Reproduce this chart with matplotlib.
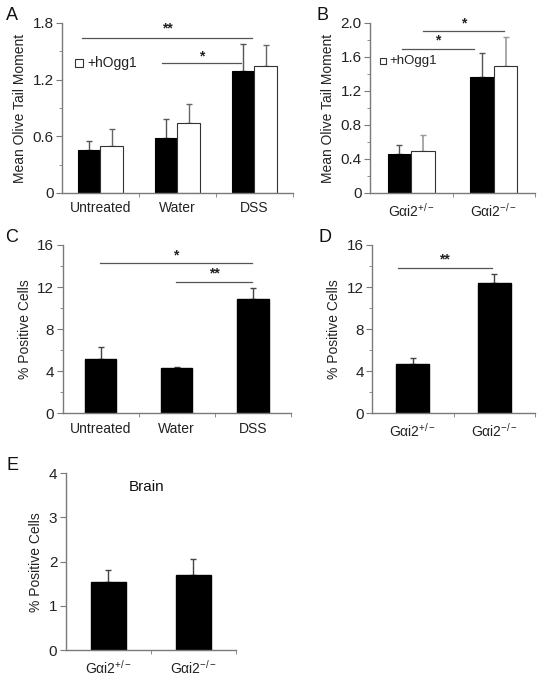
import matplotlib
matplotlib.use("Agg")
import matplotlib.pyplot as plt
import numpy as np

plt.rcParams['font.family'] = ['Liberation Sans', 'DejaVu Sans']
plt.rcParams['mathtext.fontset'] = 'custom'
plt.rcParams['mathtext.rm'] = 'Liberation Sans'
plt.rcParams['mathtext.it'] = 'Liberation Sans'
plt.rcParams['mathtext.bf'] = 'Liberation Sans:bold'
plt.rcParams['mathtext.default'] = 'regular'

# ---- data ----
a_cats = ["Untreated", "Water", "DSS"]
a_ctrl = [0.455, 0.58, 1.29]
a_ctrl_err = [0.10, 0.20, 0.29]
a_hogg = [0.50, 0.74, 1.35]
a_hogg_err = [0.175, 0.20, 0.22]

b_cats = ["Gαi2$^{+/-}$", "Gαi2$^{-/-}$"]
b_ctrl = [0.46, 1.37]
b_ctrl_err = [0.10, 0.28]
b_hogg = [0.49, 1.49]
b_hogg_err = [0.19, 0.34]

c_cats = ["Untreated", "Water", "DSS"]
c_vals = [5.15, 4.31, 10.85]
c_err = [1.12, 0.12, 1.09]

d_cats = ["Gαi2$^{+/-}$", "Gαi2$^{-/-}$"]
d_vals = [4.69, 12.37]
d_err = [0.58, 0.85]

e_cats = ["Gαi2$^{+/-}$", "Gαi2$^{-/-}$"]
e_vals = [1.55, 1.70]
e_err = [0.25, 0.35]

SPINE = '#7a7a7a'
FS = 10
YFS = 11

fig = plt.figure(figsize=(5.4, 6.75), dpi=100)

def style(ax, ylim, major, minor, ncat, ylabel, ticklabels, fmt):
    ax.set_xlim(-0.5, ncat - 0.5)
    ax.set_ylim(*ylim)
    for s in ['top', 'right']:
        ax.spines[s].set_visible(False)
    for s in ['left', 'bottom']:
        ax.spines[s].set_color(SPINE)
        ax.spines[s].set_linewidth(1.0)
    ax.set_yticks(major)
    ax.set_yticklabels([fmt(v) for v in major], fontsize=YFS, color='#222222')
    ax.set_yticks(minor, minor=True)
    ax.tick_params(axis='y', which='major', direction='out', length=4, color=SPINE, pad=2)
    ax.tick_params(axis='y', which='minor', direction='out', length=2.5, color=SPINE)
    bounds = np.arange(ncat + 1) - 0.5
    ax.set_xticks(bounds[1:], minor=True)
    ax.tick_params(axis='x', which='minor', direction='out', length=3, color=SPINE)
    ax.set_xticks(np.arange(ncat))
    ax.set_xticklabels(ticklabels, fontsize=FS, color='#222222')
    ax.tick_params(axis='x', which='major', length=0, pad=6)
    ax.set_ylabel(ylabel, fontsize=FS, color='#222222', labelpad=4)
    ax.patch.set_alpha(0)

def sig(ax, x0, x1, y, text, ty):
    ax.plot([x0, x1], [y, y], color='#555555', lw=0.9, clip_on=False)
    ax.text((x0 + x1) / 2, ty, text, ha='center', va='center', fontsize=10, fontweight='bold', color='#222222')

# ---- Panel A ----
axA = fig.add_axes([62/540, 1-193/675, 231/540, 170/675])
x = np.arange(len(a_cats))
w = 0.29
axA.bar(x - w/2, a_ctrl, w, color='black', edgecolor='black', lw=0.8, zorder=2)
axA.bar(x + w/2, a_hogg, w, color='white', edgecolor='#333333', lw=0.8, zorder=2)
axA.errorbar(x - w/2, a_ctrl, yerr=[np.zeros(3), a_ctrl_err], fmt='none', ecolor='#555555', elinewidth=1, capsize=2.5, capthick=1, zorder=1)
axA.errorbar(x + w/2, a_hogg, yerr=[np.zeros(3), a_hogg_err], fmt='none', ecolor='#666666', elinewidth=1, capsize=2.5, capthick=1, zorder=1)
style(axA, (0, 1.8), [0, 0.6, 1.2, 1.8], [0.3, 0.9, 1.5], 3, "Mean Olive Tail Moment", a_cats,
      lambda v: "0" if v == 0 else f"{v:.1f}")
sig(axA, -0.24, 1.97, 1.639, "**", 1.737)
sig(axA, 0.80, 1.82, 1.374, "*", 1.445)
axA.plot([-0.28], [1.377], marker='s', ms=5.5, mfc='white', mec='#333333', mew=0.8, clip_on=False)
axA.text(-0.17, 1.377, "+hOgg1", fontsize=FS, va='center', ha='left', color='#222222')

# ---- Panel B ----
axB = fig.add_axes([370/540, 1-193/675, 165/540, 170/675])
x = np.arange(len(b_cats))
w = 0.285
axB.bar(x - w/2, b_ctrl, w, color='black', edgecolor='black', lw=0.8, zorder=2)
axB.bar(x + w/2, b_hogg, w, color='white', edgecolor='#333333', lw=0.8, zorder=2)
axB.errorbar(x - w/2, b_ctrl, yerr=[np.zeros(2), b_ctrl_err], fmt='none', ecolor='#555555', elinewidth=1, capsize=2.5, capthick=1, zorder=1)
axB.errorbar(x + w/2, b_hogg, yerr=[np.zeros(2), b_hogg_err], fmt='none', ecolor='#999999', elinewidth=1.2, capsize=2.5, capthick=1, zorder=1)
style(axB, (0, 2.0), [0, 0.4, 0.8, 1.2, 1.6, 2.0], [0.2, 0.6, 1.0, 1.4, 1.8], 2, "Mean Olive Tail Moment", b_cats,
      lambda v: "0" if v == 0 else f"{v:.1f}")
sig(axB, -0.11, 0.76, 1.69, "*", 1.79)
sig(axB, 0.14, 1.12, 1.906, "*", 2.0)
axB.plot([-0.345], [1.55], marker='s', ms=4.5, mfc='white', mec='#333333', mew=0.8, clip_on=False)
axB.text(-0.27, 1.55, "+hOgg1", fontsize=FS - 0.5, va='center', ha='left', color='#222222')

# ---- Panel C ----
axC = fig.add_axes([62.5/540, 1-413.3/675, 228.5/540, 168.3/675])
x = np.arange(len(c_cats))
axC.bar(x, c_vals, 0.41, color='black', edgecolor='black', zorder=2)
axC.errorbar(x, c_vals, yerr=[np.zeros(3), c_err], fmt='none', ecolor='#444444', elinewidth=1, capsize=2.5, capthick=1, zorder=1)
style(axC, (0, 16), [0, 4, 8, 12, 16], [2, 6, 10, 14], 3, "% Positive Cells", c_cats, lambda v: f"{int(v)}")
sig(axC, -0.01, 1.99, 14.26, "*", 15.05)
sig(axC, 0.99, 1.99, 12.5, "**", 13.34)

# ---- Panel D ----
axD = fig.add_axes([372/540, 1-413.3/675, 163/540, 168.3/675])
x = np.arange(len(d_cats))
axD.bar(x, d_vals, 0.4, color='black', edgecolor='black', zorder=2)
axD.errorbar(x, d_vals, yerr=[np.zeros(2), d_err], fmt='none', ecolor='#444444', elinewidth=1, capsize=2.5, capthick=1, zorder=1)
style(axD, (0, 16), [0, 4, 8, 12, 16], [2, 6, 10, 14], 2, "% Positive Cells", d_cats, lambda v: f"{int(v)}")
sig(axD, -0.185, 0.97, 13.78, "**", 14.67)

# ---- Panel E ----
axE = fig.add_axes([65.7/540, 1-650/675, 170.3/540, 176.7/675])
x = np.arange(len(e_cats))
axE.bar(x, e_vals, 0.41, color='black', edgecolor='black', zorder=2)
axE.errorbar(x, e_vals, yerr=[np.zeros(2), e_err], fmt='none', ecolor='#444444', elinewidth=1, capsize=2.5, capthick=1, zorder=1)
style(axE, (0, 4), [0, 1, 2, 3, 4], [], 2, "% Positive Cells", e_cats, lambda v: f"{int(v)}")
axE.text(0.45, 3.69, "Brain", ha='center', va='center', fontsize=11, color='#111111')

# ---- panel letters ----
for lab, px, py in [("A", 12, 15), ("B", 323, 15), ("C", 12, 237), ("D", 325, 237), ("E", 12, 465)]:
    fig.text(px/540, 1-py/675, lab, fontsize=13, ha='center', va='center', color='#111111')

fig.savefig("out.png", dpi=100)
